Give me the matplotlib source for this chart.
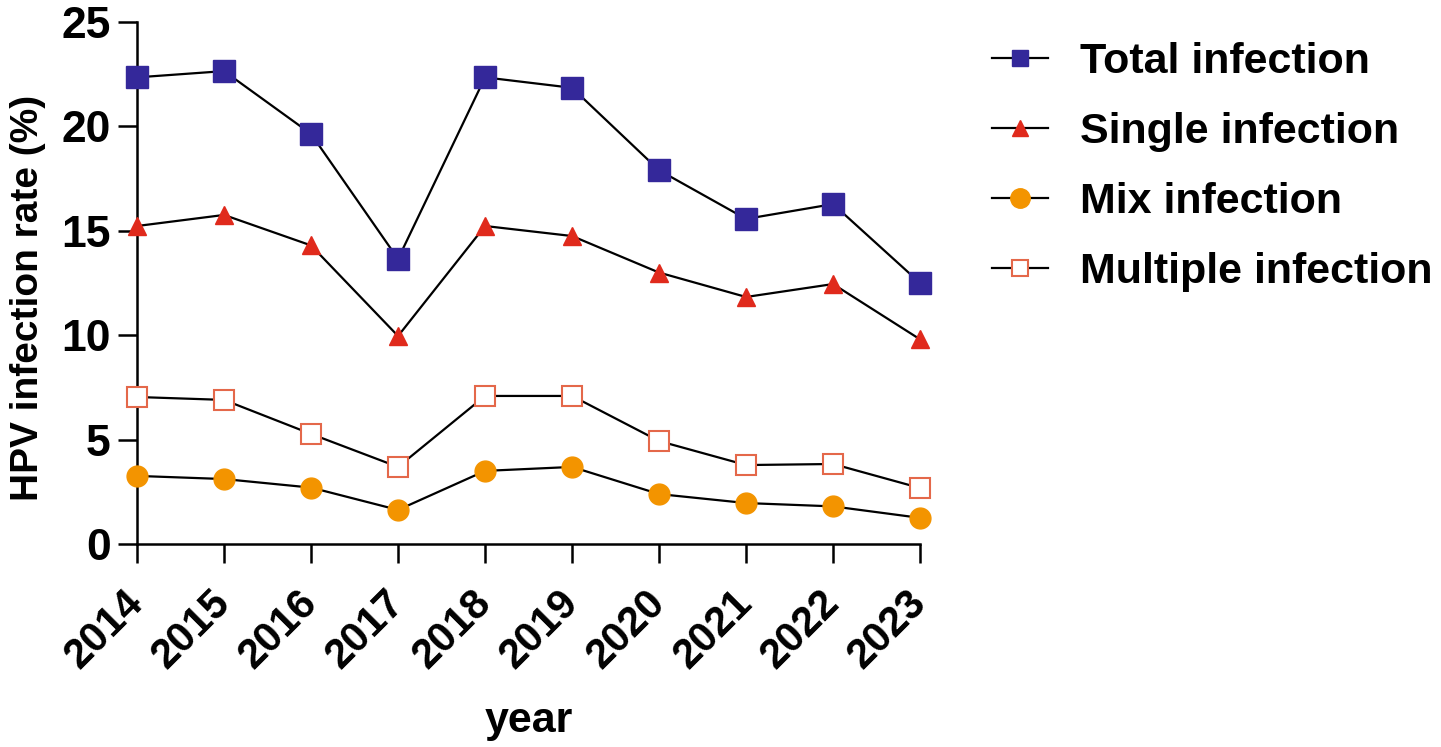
import matplotlib.pyplot as plt
import numpy as np

plt.rcParams['font.family'] = ['Liberation Sans', 'DejaVu Sans']
plt.rcParams['font.weight'] = 'bold'

years = [2014, 2015, 2016, 2017, 2018, 2019, 2020, 2021, 2022, 2023]
total = [22.35, 22.65, 19.64, 13.65, 22.35, 21.85, 17.9, 15.57, 16.28, 12.5]
single = [15.23, 15.76, 14.3, 9.96, 15.23, 14.75, 13.0, 11.83, 12.45, 9.8]
mix = [3.26, 3.11, 2.7, 1.63, 3.5, 3.69, 2.39, 1.96, 1.8, 1.25]
multiple = [7.04, 6.9, 5.27, 3.69, 7.09, 7.09, 4.93, 3.78, 3.83, 2.68]

fig = plt.figure(figsize=(14.41, 7.47), dpi=100)
ax = fig.add_axes([0.0951, 0.2718, 0.5434, 0.6987])

line_kw = dict(color='black', lw=1.6, clip_on=False, zorder=3)
ax.plot(years, total, marker='s', ms=16, mfc='#34289A', mec='#34289A', label='Total infection', **line_kw)
ax.plot(years, single, marker='^', ms=13, mfc='#E02A1C', mec='#E02A1C', label='Single infection', **line_kw)
ax.plot(years, mix, marker='o', ms=15, mfc='#F39400', mec='#F39400', label='Mix infection', **line_kw)
ax.plot(years, multiple, marker='s', ms=14, mfc='white', mec='#E4684A', mew=1.5, label='Multiple infection', **line_kw)

ax.set_xlim(2014, 2023)
ax.set_ylim(0, 25)
ax.set_xticks(years)
ax.set_xticklabels([str(y) for y in years], rotation=45, ha='right', va='center',
                   rotation_mode='anchor')
ax.set_yticks([0, 5, 10, 15, 20, 25])

for s in ['top', 'right']:
    ax.spines[s].set_visible(False)
for s in ['left', 'bottom']:
    ax.spines[s].set_linewidth(1.8)
ax.tick_params(axis='both', length=14, width=1.8, labelsize=32, pad=5)
ax.tick_params(axis='x', labelsize=30, pad=24)

ax.set_xlabel('year', fontsize=31, fontweight='bold')
ax.xaxis.set_label_coords(0.5, -0.3)
ax.set_ylabel('HPV infection rate (%)', fontsize=28, fontweight='bold')
ax.yaxis.set_label_coords(-0.116, 0.471)

leg = ax.legend(loc='upper left', bbox_to_anchor=(1.092, 0.962), frameon=False,
                fontsize=31, handlelength=1.3, handletextpad=0.75, labelspacing=0.7,
                borderpad=0, borderaxespad=0)
for h, ms in zip(leg.legend_handles, [11, 12, 14, 11]):
    h.set_markersize(ms)

fig.savefig('out.png', dpi=100)
